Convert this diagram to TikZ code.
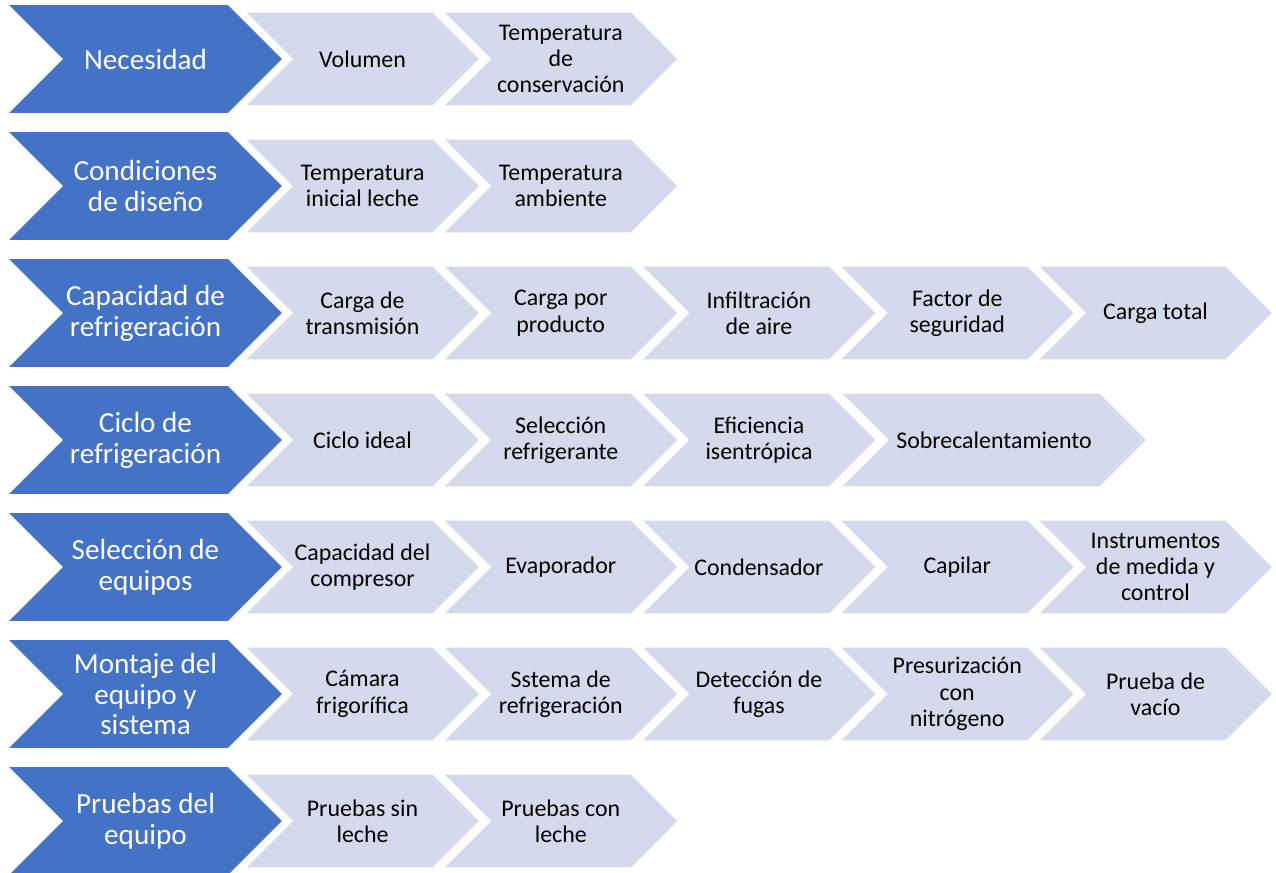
\documentclass[tikz,border=0pt]{standalone}
\usepackage{fontspec}
\setmainfont{Carlito}
\usetikzlibrary{shapes.symbols}
\definecolor{azul}{HTML}{4472C4}
\definecolor{celeste}{HTML}{D4DAEC}
\tikzset{
  fase/.style={signal, signal from=west, signal to=east, fill=azul, draw=none,
    minimum width=5.46cm, minimum height=2.16cm, inner sep=0pt, align=center,
    text=white, font=\fontsize{16.6}{17.6}\selectfont},
  paso/.style={signal, signal from=west, signal to=east, fill=celeste, draw=white, line width=.6pt,
    minimum width=4.7cm, minimum height=1.88cm, inner sep=0pt, align=center,
    text=black, font=\fontsize{13.6}{15}\selectfont}
}
\begin{document}
\begin{tikzpicture}[x=0.02cm, y=-0.02cm]
\useasboundingbox (0,0) rectangle (1276,873);
% fila 1
\node[fase] (nec) at (145.5,59) {Necesidad};
\node[paso] (nec1) at (362.5,59) {Volumen};
\node[paso] (nec2) at (560.75,59) {Temperatura\\de\\conservación};
% fila 2
\node[fase] (cond) at (145.5,186) {Condiciones\\de diseño};
\node[paso] (cond1) at (362.5,186) {Temperatura\\inicial leche};
\node[paso] (cond2) at (560.75,186) {Temperatura\\ambiente};
% fila 3
\node[fase] (cap) at (145.5,313) {Capacidad de\\refrigeración};
\node[paso] (cap1) at (362.5,313) {Carga de\\transmisión};
\node[paso] (cap2) at (560.75,313) {Carga por\\producto};
\node[paso] (cap3) at (759,313) {Infiltración\\de aire};
\node[paso] (cap4) at (957.25,313) {Factor de\\seguridad};
\node[paso] (cap5) at (1155.5,313) {Carga total};
% fila 4
\node[fase] (cic) at (145.5,440) {Ciclo de\\refrigeración};
\node[paso] (cic1) at (362.5,440) {Ciclo ideal};
\node[paso] (cic2) at (560.75,440) {Selección\\refrigerante};
\node[paso] (cic3) at (759,440) {Eficiencia\\isentrópica};
\node[paso, minimum width=6.12cm] (cic4) at (994,440) {Sobrecalentamiento};
% fila 5
\node[fase] (sel) at (145.5,567) {Selección de\\equipos};
\node[paso] (sel1) at (362.5,567) {Capacidad del\\compresor};
\node[paso] (sel2) at (560.75,567) {Evaporador};
\node[paso] (sel3) at (759,567) {Condensador};
\node[paso] (sel4) at (957.25,567) {Capilar};
\node[paso] (sel5) at (1155.5,567) {Instrumentos\\de medida y\\control};
% fila 6
\node[fase] (mon) at (145.5,694) {Montaje del\\equipo y\\sistema};
\node[paso] (mon1) at (362.5,694) {Cámara\\frigorífica};
\node[paso] (mon2) at (560.75,694) {Sstema de\\refrigeración};
\node[paso] (mon3) at (759,694) {Detección de\\fugas};
\node[paso] (mon4) at (957.25,694) {Presurización\\con\\nitrógeno};
\node[paso] (mon5) at (1155.5,694) {Prueba de\\vacío};
% fila 7
\node[fase] (pru) at (145.5,821) {Pruebas del\\equipo};
\node[paso] (pru1) at (362.5,821) {Pruebas sin\\leche};
\node[paso] (pru2) at (560.75,821) {Pruebas con\\leche};
\end{tikzpicture}
\end{document}
